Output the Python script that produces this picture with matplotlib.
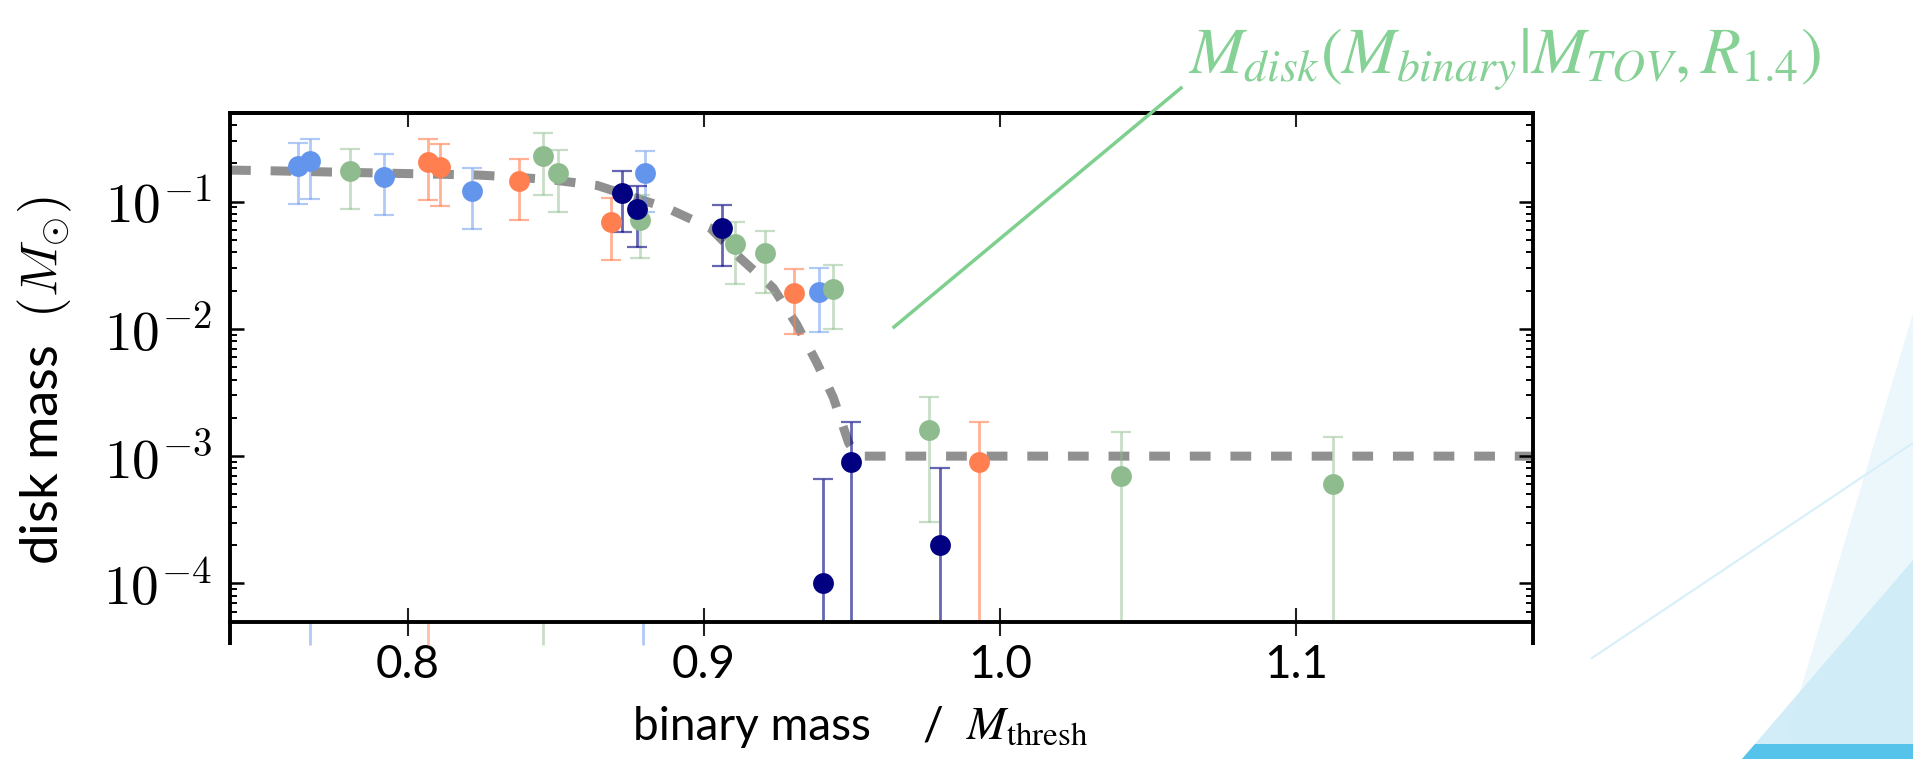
import matplotlib
matplotlib.use("Agg")
import matplotlib.pyplot as plt
from matplotlib.patches import Polygon

plt.rcParams["font.family"] = ["Lato", "DejaVu Sans"]

# Simulation points: x = binary mass / M_thresh, y = disk mass, lo/hi = error bar ends
blue_x = [0.763, 0.767, 0.792, 0.8217, 0.8803, 0.9389]
blue_y = [0.190, 0.208, 0.155, 0.122, 0.169, 0.0195]
blue_lo = [0.096, 0.104, 0.078, 0.061, 0.0835, 0.0094]
blue_hi = [0.29, 0.312, 0.237, 0.184, 0.251, 0.030]

orange_x = [0.8067, 0.811, 0.8376, 0.8686, 0.9306, 0.9928]
orange_y = [0.206, 0.186, 0.144, 0.0696, 0.0193, 9.0e-4]
orange_lo = [0.103, 0.093, 0.072, 0.0349, 0.00916, 1e-6]
orange_hi = [0.31, 0.282, 0.216, 0.106, 0.0295, 1.85e-3]

green_x = [0.7805, 0.8456, 0.8506, 0.8783, 0.9106, 0.9205, 0.9435, 0.976, 1.041, 1.1125]
green_y = [0.174, 0.23, 0.169, 0.0718, 0.0463, 0.0394, 0.0206, 1.6e-3, 7.0e-4, 6.0e-4]
green_lo = [0.087, 0.113, 0.0835, 0.0361, 0.0227, 0.0193, 0.0099, 3.03e-4, 1e-6, 1e-6]
green_hi = [0.26, 0.344, 0.253, 0.113, 0.069, 0.0593, 0.0315, 2.9e-3, 1.55e-3, 1.42e-3]

navy_x = [0.8725, 0.8774, 0.906, 0.9402, 0.9497, 0.9799]
navy_y = [0.116, 0.0877, 0.0625, 1.0e-4, 9.0e-4, 2.0e-4]
navy_lo = [0.058, 0.0439, 0.031, 1e-6, 1e-6, 1e-6]
navy_hi = [0.175, 0.133, 0.094, 6.6e-4, 1.85e-3, 8.0e-4]

# fitted disk mass model (dashed curve)
fit_x = [0.74, 0.7524, 0.8233, 0.8346, 0.8491, 0.864, 0.8876, 0.9022, 0.9123,
         0.9234, 0.9314, 0.9382, 0.9437, 0.9489, 0.952, 1.18]
fit_y = [0.177, 0.175, 0.162, 0.157, 0.148, 0.134, 0.089, 0.062, 0.036,
         0.021, 0.0108, 0.0054, 0.0029, 0.00127, 0.001, 0.001]

# error bar stubs poking out below the panel
stub_x = [0.767, 0.8067, 0.8456, 0.8796]
stub_colors = ["cornflowerblue", "coral", "darkseagreen", "cornflowerblue"]

xticks = [0.8, 0.9, 1.0, 1.1]
xtick_labels = ["0.8", "0.9", "1.0", "1.1"]
yticks = [1e-4, 1e-3, 1e-2, 1e-1]
ytick_labels = [r"$10^{-4}$", r"$10^{-3}$", r"$10^{-2}$", r"$10^{-1}$"]

W, H = 1913, 759
fig = plt.figure(figsize=(W / 100, H / 100), dpi=100)

# slide decoration in the lower right corner
def px(points):
    return [(x / W, 1 - y / H) for x, y in points]

fig.patches.append(Polygon(px([(1913, 313), (1780, 759), (1913, 759)]),
                           closed=True, transform=fig.transFigure,
                           facecolor="#ecf7fc", edgecolor="none"))
fig.patches.append(Polygon(px([(1913, 560), (1742, 759), (1913, 759)]),
                           closed=True, transform=fig.transFigure,
                           facecolor="#cdebf7", edgecolor="none", alpha=0.9))
fig.patches.append(Polygon(px([(1755, 744), (1913, 744), (1913, 759), (1742, 759)]),
                           closed=True, transform=fig.transFigure,
                           facecolor="#55c3ea", edgecolor="none"))
fig.lines.append(plt.Line2D([1592 / W, 1.0], [1 - 658 / H, 1 - 443 / H],
                            transform=fig.transFigure, color="#d6effa", lw=1.5))

ax = fig.add_axes([230 / W, 1 - 621.7 / H, 1303 / W, 509 / H])
ax.set_facecolor("none")

ax.plot(fit_x, fit_y, color="#909090", lw=6.5, dashes=(2.3, 2.2),
        solid_capstyle="butt", zorder=1)

groups = [
    (blue_x, blue_y, blue_lo, blue_hi, "cornflowerblue", 0.5),
    (orange_x, orange_y, orange_lo, orange_hi, "coral", 0.6),
    (green_x, green_y, green_lo, green_hi, "darkseagreen", 0.5),
    (navy_x, navy_y, navy_lo, navy_hi, "navy", 0.6),
]
for gx, gy, lo, hi, col, a in groups:
    yerr = [[y - l for y, l in zip(gy, lo)], [h - y for y, h in zip(gy, hi)]]
    ax.errorbar(gx, gy, yerr=yerr, fmt="none", ecolor=col, alpha=a,
                elinewidth=2, capsize=7.5, capthick=1.6, zorder=2)
    ax.plot(gx, gy, "o", color=col, ms=15, mec="none", zorder=3)

ax.set_yscale("log")
ax.set_xlim(0.74, 1.18)
ax.set_ylim(5e-5, 0.5)

ax.vlines(stub_x, 3.3e-5, 5e-5, colors=stub_colors, alpha=0.5, lw=2, clip_on=False)

for s in ax.spines.values():
    s.set_linewidth(2.8)
for xs in (0, 1):
    ax.plot([xs, xs], [0, -0.046], transform=ax.transAxes, color="k",
            lw=2.8, clip_on=False, solid_capstyle="butt")

ax.set_xticks(xticks, labels=xtick_labels)
ax.tick_params(axis="x", which="major", direction="inout", length=20, width=1.5,
               color="#222222", labelsize=33, pad=6)
ax.tick_params(axis="x", which="minor", bottom=False, top=False)
top = ax.secondary_xaxis("top")
top.set_xticks(xticks)
top.tick_params(direction="in", length=10, width=1.5, color="#222222",
                labeltop=False)
top.spines["top"].set_linewidth(2.8)

ax.set_yticks(yticks, labels=ytick_labels)
ax.tick_params(axis="y", which="major", direction="in", length=10, width=1.8,
               right=True, labelsize=40, pad=13)
ax.tick_params(axis="y", which="minor", direction="in", length=5, width=1.4,
               right=True)
for lbl in ax.get_yticklabels():
    lbl.set_math_fontfamily("cm")

# axis labels (slide text, wide spacing around the slash)
ybase = 1 - 740 / H
fig.text(633 / W, ybase, "binary mass", ha="left", va="baseline", fontsize=33)
fig.text(922 / W, ybase, "/", ha="left", va="baseline", fontsize=33)
fig.text(966 / W, ybase, r"$M_{\mathrm{thresh}}$", ha="left", va="baseline",
         fontsize=34, math_fontfamily="stix")
fig.text(45 / W, 1 - 381 / H, r"disk mass  $(M_{\odot})$", rotation=90,
         ha="center", va="center", fontsize=38, math_fontfamily="cm")

# annotation pointing at the fitted curve
fig.lines.append(plt.Line2D([894 / W, 1181 / W], [1 - 327 / H, 1 - 88 / H],
                            transform=fig.transFigure, color="#7fcf8f", lw=2.5))
fig.text(1188 / W, 1 - 60 / H, r"$M_{disk}\left(M_{binary}|M_{TOV},R_{1.4}\right)$",
         ha="left", va="center", fontsize=47, color="#86d195",
         math_fontfamily="stix")

fig.savefig("out.png", dpi=100)
